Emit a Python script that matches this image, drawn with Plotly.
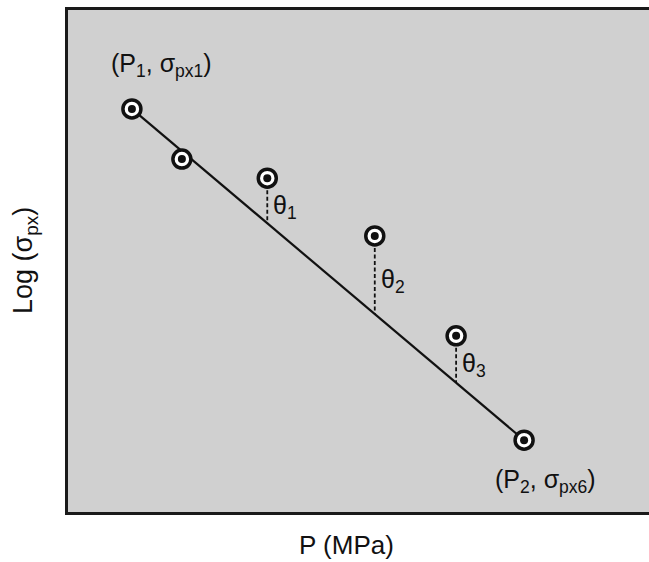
import plotly.graph_objects as go

# Measured pressure / log stress pairs (arbitrary units)
pressure = [1.10, 1.96, 3.43, 5.28, 6.68, 7.85]
log_sigma = [8.03, 7.03, 6.65, 5.50, 3.51, 1.43]

# Points whose vertical deviation from the end-point line is marked
theta_points = [2, 3, 4]
theta_labels = ["θ<sub>1</sub>", "θ<sub>2</sub>", "θ<sub>3</sub>"]

start_label = "(P<sub>1</sub>, σ<sub>px1</sub>)"
end_label = "(P<sub>2</sub>, σ<sub>px6</sub>)"
x_title = "P (MPa)"
y_title = "Log (σ<sub>px</sub>)"

X_RANGE = [0, 10]
Y_RANGE = [0, 10]

FONT = "Liberation Sans, Arial, Helvetica, sans-serif"
INK = "#111111"

# Straight line through the first and last points
x0, y0 = pressure[0], log_sigma[0]
x1, y1 = pressure[-1], log_sigma[-1]
slope = (y1 - y0) / (x1 - x0)


def line_at(x):
    return y0 + slope * (x - x0)


fig = go.Figure()

fig.add_trace(go.Scatter(
    x=[x0, x1], y=[y0, y1], mode="lines",
    line=dict(color=INK, width=2.2), hoverinfo="skip", showlegend=False,
))

# Dashed deviation segments from each point down to the line
marker_gap = 0.24
for i in theta_points:
    xp, yp = pressure[i], log_sigma[i]
    fig.add_trace(go.Scatter(
        x=[xp, xp], y=[yp - marker_gap, line_at(xp)], mode="lines",
        line=dict(color=INK, width=1.8, dash="4px,2.5px"),
        hoverinfo="skip", showlegend=False,
    ))

# Ring markers with a solid centre dot
fig.add_trace(go.Scatter(
    x=pressure, y=log_sigma, mode="markers",
    marker=dict(size=18, color="white", line=dict(color=INK, width=3.5)),
    showlegend=False,
))
fig.add_trace(go.Scatter(
    x=pressure, y=log_sigma, mode="markers",
    marker=dict(size=8, color=INK),
    showlegend=False,
))

annotations = []
for i, lab in zip(theta_points, theta_labels):
    xp, yp = pressure[i], log_sigma[i]
    mid = (yp - marker_gap + line_at(xp)) / 2
    annotations.append(dict(
        x=xp, y=mid, text=lab, showarrow=False, xanchor="left",
        xshift=4, font=dict(family=FONT, size=25, color=INK),
    ))

annotations.append(dict(
    x=pressure[0], y=log_sigma[0], text=start_label, showarrow=False,
    xanchor="center", yanchor="middle", xshift=30, yshift=44,
    font=dict(family=FONT, size=25, color=INK),
))
annotations.append(dict(
    x=pressure[-1], y=log_sigma[-1], text=end_label, showarrow=False,
    xanchor="center", yanchor="middle", xshift=21, yshift=-41,
    font=dict(family=FONT, size=25, color=INK),
))
annotations.append(dict(
    x=0.48, y=-0.065, xref="paper", yref="paper", text=x_title,
    showarrow=False, xanchor="center", yanchor="middle",
    font=dict(family=FONT, size=26, color=INK),
))
annotations.append(dict(
    x=-0.074, y=0.5, xref="paper", yref="paper", text=y_title,
    showarrow=False, xanchor="center", yanchor="middle", textangle=-90,
    font=dict(family=FONT, size=27, color=INK),
))

fig.update_layout(
    width=649, height=562,
    margin=dict(l=68, r=0, t=10, b=50),
    paper_bgcolor="white",
    plot_bgcolor="#d0d0d0",
    annotations=annotations,
    xaxis=dict(range=X_RANGE, showgrid=False, zeroline=False,
               showticklabels=False, ticks="", showline=True,
               linecolor="#1a1a1a", linewidth=3, mirror=True),
    yaxis=dict(range=Y_RANGE, showgrid=False, zeroline=False,
               showticklabels=False, ticks="", showline=True,
               linecolor="#1a1a1a", linewidth=3),
)

fig.write_html("out.html")
